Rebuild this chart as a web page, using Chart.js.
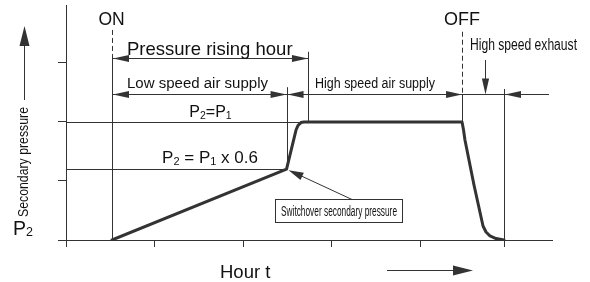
<!DOCTYPE html>
<html><head><meta charset="utf-8">
<script src="https://cdn.jsdelivr.net/npm/chart.js@4/dist/chart.umd.min.js"></script>
<style>html,body{margin:0;padding:0;background:#fff;}canvas{display:block}</style>
</head><body>
<canvas id="c" width="590" height="282"></canvas>
<script>
// ---- data (time in tick units, pressure in tick units) ----
const timeValues     = [0.52, 2.492, 2.599, 2.621, 2.655, 2.689, 4.475, 4.492, 4.508, 4.610, 4.712, 4.746, 4.791, 4.859, 4.949];
const pressureValues = [0,    1.2,   1.864, 1.94,  1.99,  2.0,   2.0,   1.864, 1.695, 0.932, 0.237, 0.136, 0.068, 0.025, 0];
const xTickValues = [0, 1, 2, 3, 4];
const yTickValues = [0, 1, 2, 3];
const p1Level = 2.0;          // P2 = P1
const switchLevel = 1.2;      // P2 = P1 x 0.6
const onTime = 0.52;
const switchTime = 2.492;
const highSpeedTime = 2.734;
const offTime = 4.475;
const exhaustEndTime = 4.949;

const INK = '#333333';
const TXT = '#111111';

const annotationPlugin = {
  id: 'diagram',
  beforeDatasetsDraw(chart) {
    const ctx = chart.ctx;
    const X = v => chart.scales.x.getPixelForValue(v);
    const Y = v => chart.scales.y.getPixelForValue(v);
    const a = v => Math.round(v) + 0.5;
    ctx.save();
    ctx.strokeStyle = INK; ctx.lineWidth = 1;
    const line = (x1, y1, x2, y2, dash) => {
      ctx.setLineDash(dash || []);
      ctx.beginPath(); ctx.moveTo(x1, y1); ctx.lineTo(x2, y2); ctx.stroke();
      ctx.setLineDash([]);
    };
    const x0 = X(0);
    line(x0, a(Y(p1Level)), X(highSpeedTime), a(Y(p1Level)));
    line(x0, a(Y(switchLevel)), X(switchTime), a(Y(switchLevel)));
    line(a(X(onTime)), Y(3.56), a(X(onTime)), Y(3.12), [5, 3]);
    line(a(X(onTime)), Y(3.12), a(X(onTime)), Y(0));
    line(a(X(switchTime)), Y(2.59), a(X(switchTime)), Y(switchLevel));
    line(a(X(highSpeedTime)), Y(3.19), a(X(highSpeedTime)), Y(p1Level));
    line(a(X(offTime)), Y(3.53), a(X(offTime)), Y(2.475), [5, 3]);
    line(a(X(offTime)), Y(2.475), a(X(offTime)), Y(p1Level));
    line(a(X(exhaustEndTime)), Y(2.56), a(X(exhaustEndTime)), Y(0) + 7);
    const yR = a(Y(3.085)), yS = a(Y(2.475));
    line(X(onTime), yR, X(highSpeedTime), yR);
    line(X(onTime), yS, X(offTime), yS);
    line(X(offTime), yS, X(5.458), yS);
    line(a(X(4.734)), Y(3.05), a(X(4.734)), yS - 8);
    ctx.restore();
  },
  afterDraw(chart) {
    const ctx = chart.ctx;
    const X = v => chart.scales.x.getPixelForValue(v);
    const Y = v => chart.scales.y.getPixelForValue(v);
    const a = v => Math.round(v) + 0.5;
    ctx.save();
    const head = (tx, ty, ang, len, hw) => {
      ctx.save();
      ctx.translate(tx, ty); ctx.rotate(ang);
      ctx.fillStyle = INK;
      ctx.beginPath(); ctx.moveTo(0, 0); ctx.lineTo(-len, -hw); ctx.lineTo(-len, hw); ctx.closePath(); ctx.fill();
      ctx.restore();
    };
    const L = 16, H = 3.6;
    const yR = a(Y(3.085)), yS = a(Y(2.475));
    head(X(onTime) + 1, yR, Math.PI, L, H);
    head(X(highSpeedTime), yR, 0, L, H);
    head(X(onTime) + 1, yS, Math.PI, L, H);
    head(X(switchTime), yS, 0, L, H);
    head(X(switchTime) + 1, yS, Math.PI, L, H);
    head(X(offTime), yS, 0, L, H);
    head(X(exhaustEndTime) + 1, yS, Math.PI, L, H);
    head(a(X(4.734)), yS, Math.PI / 2, L, H);

    ctx.strokeStyle = INK; ctx.lineWidth = 1;
    ctx.fillStyle = '#fff';
    ctx.fillRect(275.5, 199.5, 127, 23);
    ctx.strokeRect(275.5, 199.5, 127, 23);
    const sx = X(switchTime) + 2, sy = Y(switchLevel) + 1;
    ctx.beginPath(); ctx.moveTo(352, 199.5); ctx.lineTo(sx + 10, sy + 4.5); ctx.stroke();
    head(sx, sy, Math.atan2(sy - 199.5, sx - 352), 15, 4);

    ctx.beginPath(); ctx.moveTo(24.5, 100); ctx.lineTo(24.5, 44); ctx.stroke();
    head(24.5, 26, -Math.PI / 2, 20, 5);
    ctx.beginPath(); ctx.moveTo(387, 270.5); ctx.lineTo(456, 270.5); ctx.stroke();
    head(473, 270.5, 0, 20, 5);

    ctx.fillStyle = TXT;
    ctx.textBaseline = 'alphabetic';
    const FONT = '"Liberation Sans", Arial, sans-serif';
    const txt = (s, x, y, size, maxW, align) => {
      ctx.font = size + 'px ' + FONT;
      ctx.textAlign = align || 'left';
      if (maxW) ctx.fillText(s, x, y, maxW); else ctx.fillText(s, x, y);
    };
    const rich = (parts, x, y, align) => {
      let w = 0;
      parts.forEach(p => { ctx.font = p[1] + 'px ' + FONT; p.w = ctx.measureText(p[0]).width; w += p.w; });
      let cx = align === 'center' ? x - w / 2 : x;
      ctx.textAlign = 'left';
      parts.forEach(p => { ctx.font = p[1] + 'px ' + FONT; ctx.fillText(p[0], cx, y + (p[2] || 0)); cx += p.w; });
    };
    txt('ON', 111.5, 25, 17.5, null, 'center');
    txt('OFF', 462, 25, 18, null, 'center');
    txt('Pressure rising hour', 127, 55, 18.5, 166);
    txt('Low speed air supply', 127, 88, 15.5, 141);
    txt('High speed air supply', 315, 88, 15.5, 120);
    txt('High speed exhaust', 470, 50, 16, 107);
    rich([['P', 16], ['2', 10.5, 2], ['=P', 16], ['1', 10.5, 2]], 210.5, 117, 'center');
    rich([['P', 17], ['2', 11, 2], [' = P', 17], ['1', 11, 2], [' x 0.6', 17]], 210, 163, 'center');
    txt('Hour t', 220, 278, 18.5);
    rich([['P', 19.5], ['2', 12.5, 1]], 13, 235, 'left');
    txt('Switchover secondary pressure', 339, 216, 14, 116, 'center');
    ctx.save();
    ctx.translate(28, 217); ctx.rotate(-Math.PI / 2);
    txt('Secondary pressure', 0, 0, 14, 110);
    ctx.restore();
    ctx.restore();
  }
};

const axisCommon = {
  type: 'linear',
  border: { display: true, color: INK, width: 1 },
  ticks: { display: false },
};

new Chart(document.getElementById('c'), {
  type: 'line',
  data: {
    datasets: [{
      data: timeValues.map((t, i) => ({ x: t, y: pressureValues[i] })),
      borderColor: INK,
      borderWidth: 3,
      pointRadius: 0,
      tension: 0,
      fill: false,
      borderJoinStyle: 'round',
      borderCapStyle: 'round'
    }]
  },
  options: {
    responsive: false,
    animation: false,
    devicePixelRatio: 1,
    layout: { padding: { left: 58, right: 38, top: 5, bottom: 35 } },
    plugins: { legend: { display: false }, tooltip: { enabled: false } },
    scales: {
      x: Object.assign({}, axisCommon, {
        min: 0, max: 5.4915,
        grid: { drawOnChartArea: false, drawTicks: true, tickLength: 7, tickColor: INK, color: INK },
        afterBuildTicks: s => { s.ticks = xTickValues.map(v => ({ value: v })); }
      }),
      y: Object.assign({}, axisCommon, {
        min: 0, max: 3.983,
        grid: { drawOnChartArea: false, drawTicks: true, tickLength: 8, tickColor: INK, color: INK },
        afterBuildTicks: s => { s.ticks = yTickValues.map(v => ({ value: v })); }
      })
    }
  },
  plugins: [annotationPlugin]
});
</script>
</body></html>
